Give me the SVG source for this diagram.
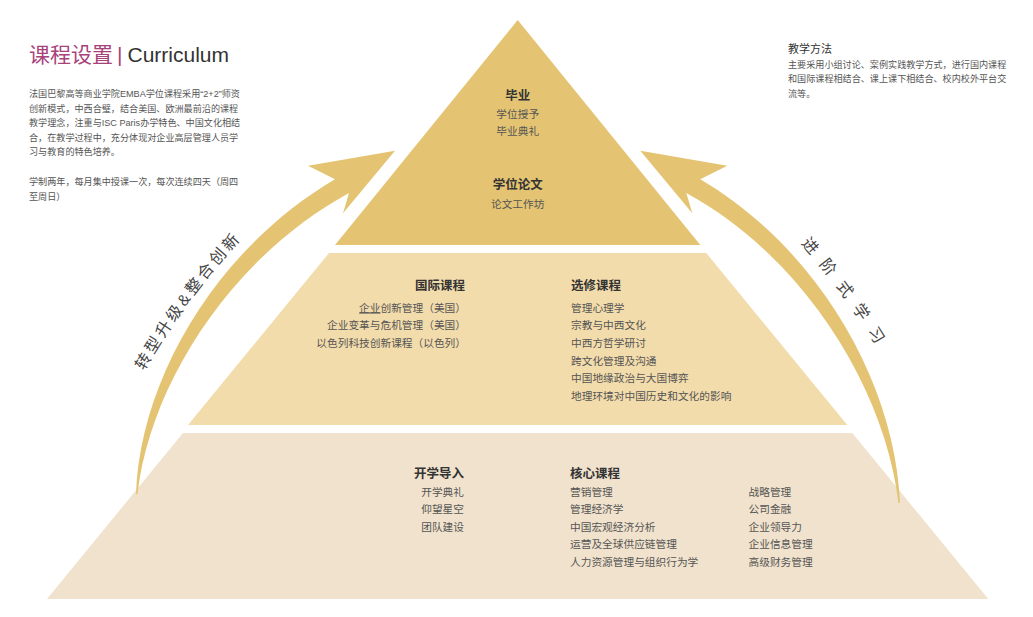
<svg xmlns="http://www.w3.org/2000/svg" width="1033" height="617" viewBox="0 0 1033 617">
<defs>
<style>
text{font-family:"Liberation Sans","Noto Sans CJK SC",sans-serif;}
.para{font-size:9.1px;fill:#555;}
.h{font-size:12.5px;font-weight:bold;fill:#333;}
.it{font-size:10.7px;fill:#555;}
.arc{fill:#e4c472;}
.arctext{font-size:16px;fill:#444;}
</style>
<path id="lpath" d="M128,400 Q185,292 262,218"/>
<path id="rpath" d="M780,222 Q841.8,283.6 892,372"/>
</defs>
<rect width="1033" height="617" fill="#ffffff"/>

<g id="title">
<text x="29" y="62" font-size="21"><tspan fill="#a8427a">课程设置</tspan><tspan fill="#a8427a" dx="4">|</tspan><tspan dx="5" fill="#333">Curriculum</tspan></text>
</g>

<g id="intro" class="para">
<text class="para" x="29" y="97">法国巴黎高等商业学院EMBA学位课程采用“2+2”师资</text>
<text class="para" x="29" y="111.5">创新模式，中西合璧，结合美国、欧洲最前沿的课程</text>
<text class="para" x="29" y="126">教学理念，注重与ISC Paris办学特色、中国文化相结</text>
<text class="para" x="29" y="140.5">合，在教学过程中，充分体现对企业高层管理人员学</text>
<text class="para" x="29" y="155">习与教育的特色培养。</text>
<text class="para" x="29" y="185">学制两年，每月集中授课一次，每次连续四天（周四</text>
<text class="para" x="29" y="199.5">至周日）</text>
</g>

<g id="method">
<text x="788" y="52.5" font-size="11" fill="#333">教学方法</text>
<text class="para" x="788" y="67.5">主要采用小组讨论、案例实践教学方式，进行国内课程</text>
<text class="para" x="788" y="82">和国际课程相结合、课上课下相结合、校内校外平台交</text>
<text class="para" x="788" y="96.5">流等。</text>
</g>

<g id="tier-bottom">
<polygon points="183,433 852.3,433 988.3,599 47,599" fill="#f0e2cc"/>
<text class="h" x="464" y="477.7" text-anchor="end">开学导入</text>
<text class="it" x="464" y="495.8" text-anchor="end">开学典礼</text>
<text class="it" x="464" y="513.3" text-anchor="end">仰望星空</text>
<text class="it" x="464" y="530.8" text-anchor="end">团队建设</text>
<text class="h" x="570" y="477.7">核心课程</text>
<text class="it" x="570" y="495.8">营销管理</text>
<text class="it" x="570" y="513.3">管理经济学</text>
<text class="it" x="570" y="530.8">中国宏观经济分析</text>
<text class="it" x="570" y="548.3">运营及全球供应链管理</text>
<text class="it" x="570" y="565.8">人力资源管理与组织行为学</text>
<text class="it" x="748.5" y="495.8">战略管理</text>
<text class="it" x="748.5" y="513.3">公司金融</text>
<text class="it" x="748.5" y="530.8">企业领导力</text>
<text class="it" x="748.5" y="548.3">企业信息管理</text>
<text class="it" x="748.5" y="565.8">高级财务管理</text>
</g>

<g id="tier-middle">
<polygon points="329,253 706.3,253 847.3,425 188,425" fill="#f3dcab"/>
<text class="h" x="465" y="290.4" text-anchor="end">国际课程</text>
<text class="it" x="466" y="311.5" text-anchor="end"><tspan text-decoration="underline">企业</tspan>创新管理（美国）</text>
<text class="it" x="466" y="329.2" text-anchor="end">企业变革与危机管理（美国）</text>
<text class="it" x="466" y="346.9" text-anchor="end">以色列科技创新课程（以色列）</text>
<text class="h" x="571" y="290.4">选修课程</text>
<text class="it" x="571" y="311.5">管理心理学</text>
<text class="it" x="571" y="329.2">宗教与中西文化</text>
<text class="it" x="571" y="346.9">中西方哲学研讨</text>
<text class="it" x="571" y="364.6">跨文化管理及沟通</text>
<text class="it" x="571" y="382.3">中国地缘政治与大国博弈</text>
<text class="it" x="571" y="400">地理环境对中国历史和文化的影响</text>
</g>

<g id="tier-top">
<polygon points="517.7,20 700.3,245 335,245" fill="#e4c472"/>
<text class="h" x="517.7" y="99.6" text-anchor="middle">毕业</text>
<text class="it" x="517.7" y="118" text-anchor="middle">学位授予</text>
<text class="it" x="517.7" y="134.8" text-anchor="middle">毕业典礼</text>
<text class="h" x="517.7" y="188.7" text-anchor="middle">学位论文</text>
<text class="it" x="517.7" y="208" text-anchor="middle">论文工作坊</text>
</g>

<g id="connectors">
<path id="arrow-left" class="arc" d="M136,494 C140,380 215,250 335,179.3 L308,165.7 L395,150.7 L343,213.3 L349,193 C230,258 150,385 137.5,494 Z"/>
<path id="arrow-right" class="arc" d="M900,503 C895.3,385 820.3,250 700.3,179.3 L727.3,165.7 L640.3,150.7 L692.3,213.3 L686.3,193 C805.3,258 885.3,390 898.5,503 Z"/>
<text class="arctext" letter-spacing="3"><textPath href="#lpath" startOffset="33">转型升级&amp;整合创新</textPath></text>
<text class="arctext" font-size="15" letter-spacing="11.5"><textPath href="#rpath" startOffset="30">进阶式学习</textPath></text>
</g>
</svg>
